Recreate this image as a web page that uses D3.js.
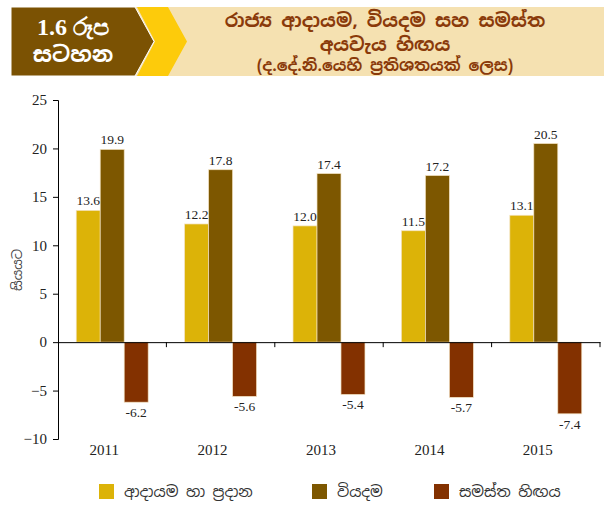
<!DOCTYPE html>
<html>
<head>
<meta charset="utf-8">
<script src="https://cdn.jsdelivr.net/npm/d3@7"></script>
<style>
  body { margin: 0; background: #fff; }
  .sin { font-family: "Noto Sans Sinhala", "Iskoola Pota", "Noto Sans", sans-serif; }
  .num { font-family: "Liberation Serif", "Times New Roman", serif; }
</style>
</head>
<body>
<svg id="frame" width="605" height="511"></svg>
<script>
// chart data
const years = ["2011", "2012", "2013", "2014", "2015"];
const revenue = [13.6, 12.2, 12.0, 11.5, 13.1];
const expenditure = [19.9, 17.8, 17.4, 17.2, 20.5];
const deficit = [-6.2, -5.6, -5.4, -5.7, -7.4];
const seriesNames = ["ආදායම හා ප්‍රදාන", "වියදම", "සමස්ත හිඟය"];
const seriesColors = ["#dcb308", "#7d5700", "#833100"];
const yTicks = [-10, -5, 0, 5, 10, 15, 20, 25];

const titleLines = ["රාජ්‍ය ආදායම, වියදම සහ සමස්ත", "අයවැය හිඟය", "(ද.දේ.නි.යෙහි ප්‍රතිශතයක් ලෙස)"];
const badgeLines = ["1.6 රූප", "සටහන"];

const svg = d3.select("#frame");

// ---- header banner
const head = svg.append("g");
head.append("rect").attr("x", 11).attr("y", 7).attr("width", 593).attr("height", 69).attr("fill", "#f5e1b1");
head.append("path").attr("d", "M137,7 L168,7 L187,41.5 L168,76 L137,76 L155,41.5 Z").attr("fill", "#fdcb0b");
head.append("path").attr("d", "M11,7 L135,7 L154,41.5 L135,76 L11,76 Z").attr("fill", "#7b5203")
  .attr("stroke", "#fff").attr("stroke-width", 1);

head.selectAll("text.badge").data(badgeLines).join("text")
  .attr("class", (d, i) => i === 0 ? "badge num" : "badge sin")
  .attr("x", 73).attr("y", (d, i) => 35 + i * 27)
  .attr("text-anchor", "middle")
  .attr("fill", "#fff").attr("font-weight", "bold").attr("font-size", (d, i) => i === 0 ? 24 : 22)
  .text(d => d);

head.selectAll("text.title").data(titleLines).join("text")
  .attr("class", "title sin")
  .attr("x", 385).attr("y", (d, i) => [27, 51, 71][i])
  .attr("text-anchor", "middle")
  .attr("fill", "#8a3a0a").attr("font-weight", "bold")
  .attr("font-size", (d, i) => i === 2 ? 16 : 18.5)
  .text(d => d);

// ---- chart
const x = d3.scaleBand().domain(years).range([58, 600]);
const x1 = d3.scaleBand().domain([0, 1, 2]).range([0, x.bandwidth()]).paddingOuter(0.76).paddingInner(0);
const y = d3.scaleLinear().domain([-10, 25]).range([439, 100]);

const yAxis = svg.append("g").attr("transform", "translate(58,0)")
  .call(d3.axisLeft(y).tickValues(yTicks).tickSize(5).tickPadding(6));
yAxis.select(".domain").attr("stroke", "#000");
yAxis.selectAll("text").attr("class", "num").attr("font-size", 15).attr("fill", "#222");

svg.append("text").attr("class", "sin")
  .attr("transform", "translate(22,270) rotate(-90)")
  .attr("text-anchor", "middle").attr("font-size", 13).attr("fill", "#444")
  .text("සියයට");

const rows = years.map((yr, i) => ({ year: yr, vals: [revenue[i], expenditure[i], deficit[i]] }));

const groups = svg.append("g").selectAll("g").data(rows).join("g")
  .attr("transform", d => `translate(${x(d.year)},0)`);

groups.selectAll("rect").data(d => d.vals.map((v, k) => ({ v, k }))).join("rect")
  .attr("x", d => x1(d.k))
  .attr("width", x1.bandwidth())
  .attr("y", d => y(Math.max(0, d.v)))
  .attr("height", d => Math.abs(y(d.v) - y(0)))
  .attr("fill", d => seriesColors[d.k])
  .attr("stroke", "#f3e2c0").attr("stroke-width", 0.7);

groups.selectAll("text").data(d => d.vals.map((v, k) => ({ v, k }))).join("text")
  .attr("class", "num")
  .attr("x", d => x1(d.k) + x1.bandwidth() / 2)
  .attr("y", d => d.v >= 0 ? y(d.v) - 5 : y(d.v) + 15)
  .attr("text-anchor", "middle").attr("font-size", 13.5).attr("fill", "#222")
  .text(d => d.v.toFixed(1));

// zero line with category ticks
const xAxis = svg.append("g").attr("transform", `translate(0,${y(0)})`)
  .call(d3.axisBottom(x).tickValues([]).tickSizeOuter(0));
xAxis.select(".domain").attr("stroke", "#000");
xAxis.selectAll("line.sep").data(years).join("line")
  .attr("class", "sep")
  .attr("x1", d => x(d) + x.bandwidth()).attr("x2", d => x(d) + x.bandwidth())
  .attr("y1", 0).attr("y2", 5).attr("stroke", "#000");

svg.append("g").selectAll("text").data(years).join("text")
  .attr("class", "num")
  .attr("x", d => x(d) + x.bandwidth() / 2 - 8).attr("y", 455)
  .attr("text-anchor", "middle").attr("font-size", 15).attr("fill", "#222")
  .text(d => d);

// ---- legend
const legX = [99, 312, 434];
const leg = svg.append("g").selectAll("g").data(seriesNames).join("g")
  .attr("transform", (d, i) => `translate(${legX[i]},484)`);
leg.append("rect").attr("width", 15).attr("height", 15).attr("fill", (d, i) => seriesColors[i]);
leg.append("text").attr("class", "sin")
  .attr("x", 25).attr("y", 13).attr("font-size", 15).attr("fill", "#333")
  .text(d => d);
</script>
</body>
</html>
